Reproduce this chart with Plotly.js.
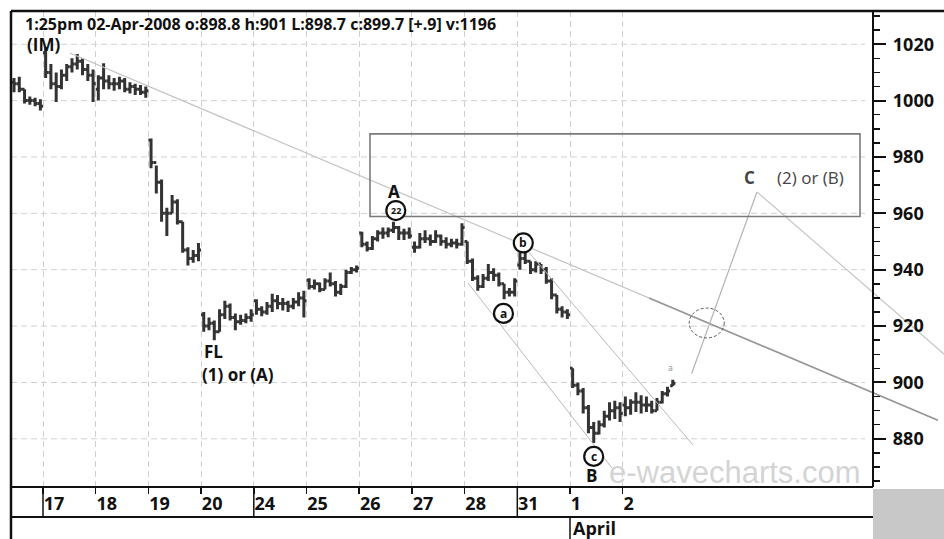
<!DOCTYPE html>
<html><head><meta charset="utf-8">
<script src="https://cdn.plot.ly/plotly-3.0.1.min.js"></script>
<style>html,body{margin:0;padding:0;background:#fff;}#chart{width:944px;height:539px;}</style>
</head><body><div id="chart"></div>
<script>
// ================= DATA =================
const chartTitle = '1:25pm 02-Apr-2008 o:898.8 h:901 L:898.7 c:899.7 [+.9] v:1196';
const dayLabels = ['17','18','19','20','24','25','26','27','28','31','1','2'];
const monthLabel = 'April';
const monthStartIndex = 10;
const weekStartIndex = [0, 4, 9];
const barsPerDay = 10;

// intraday bars (high / low / close), 10 bars per session; 14-Mar shows its tail only
const hi14 = [1008, 1008.5, 1004, 1001.5, 1001, 1000.5];
const lo14 = [1003, 1003, 999, 998.5, 998, 996.5];
const cl14 = [1006, 1004, 1000, 1000, 999, 998];

const hi17 = [1019, 1013, 1010, 1011, 1013, 1015, 1016.5, 1015, 1013, 1011];
const lo17 = [1008, 1004, 999.5, 1004, 1007, 1010, 1011, 1009, 1007, 999.5];
const cl17 = [1010, 1006, 1005, 1009, 1012, 1013, 1014, 1011, 1009, 1006];

const hi18 = [1009, 1013.3, 1009, 1008, 1008.5, 1008, 1006.5, 1006, 1005.5, 1005];
const lo18 = [1000, 1004, 1004, 1003.5, 1004, 1003, 1002.5, 1002, 1002, 1001];
const cl18 = [1008, 1007, 1006, 1006, 1007, 1004, 1005, 1004, 1003, 1003.5];

const hi19 = [986.6, 977, 972, 962, 966.5, 965, 957, 948, 947, 949.5];
const lo19 = [976, 967, 957, 952, 960, 956, 946, 941.5, 942.5, 943];
const cl19 = [978, 971, 960, 960, 964, 957, 947, 944, 945, 947];

const hi20 = [925, 923, 922, 926, 929, 928, 924.5, 924, 924.5, 926];
const lo20 = [918, 918.5, 915, 918, 922.5, 922, 918.5, 920.5, 921, 921.5];
const cl20 = [920, 921, 918, 924, 927, 923, 921.5, 922, 923, 924];

const hi24 = [929.5, 927, 928.5, 931.5, 931, 930, 929, 930, 932, 932.5];
const lo24 = [924, 923.5, 924, 925, 926, 925.5, 925, 926, 927, 923];
const cl24 = [926, 925, 927, 929, 928, 928, 927, 928.5, 930, 929];

const hi25 = [937, 936.5, 935.5, 937, 939, 936, 935, 940, 941, 941.5];
const lo25 = [933, 933, 932, 933, 934, 930.5, 931, 933.5, 938.5, 939];
const cl25 = [934, 935, 933, 936, 935, 932, 934, 939, 940, 940.5];

const hi26 = [953.5, 950, 952, 954, 955, 955, 957, 955.5, 954.5, 955];
const lo26 = [948, 946.5, 947, 950, 951, 951.5, 953, 950.5, 950.5, 951];
const cl26 = [949, 947.5, 951, 953, 953, 954, 955, 953, 953, 952];

const hi27 = [950, 953, 954, 952.5, 954, 952.5, 951.5, 951, 951, 956.5];
const lo27 = [946, 947.5, 949.5, 948.5, 949.5, 948.5, 947.5, 948, 947.5, 948.5];
const cl27 = [948, 951, 951, 950, 952, 950, 949, 949.5, 949, 955];

const hi28 = [950, 944, 938, 938.5, 942, 940.5, 939, 935, 933.5, 937];
const lo28 = [942, 936, 932.5, 933.5, 936, 936, 934, 929.5, 930.5, 930.5];
const cl28 = [943, 937, 934, 937, 939, 938, 935, 932, 932, 936];

const hi31 = [946, 946, 943, 943, 942, 941, 937, 931, 927, 926];
const lo31 = [940, 942, 938.5, 939, 938.5, 935, 929.5, 924.5, 923, 922.5];
const cl31 = [944, 943, 940, 942, 940, 936, 931, 926, 925, 924];

const hi01 = [905, 900, 898, 892, 886, 886.5, 890, 893, 893.5, 893];
const lo01 = [898, 895.5, 889, 882, 878.5, 881.5, 884, 886.5, 887, 886];
const cl01 = [899, 897, 891, 884, 882, 885, 888, 890, 891, 889];

const hi02 = [895, 894, 896.5, 895.5, 895, 893.5, 894.5, 897, 898.5, 901];
const lo02 = [888, 888.5, 889.5, 889, 889.5, 889, 890, 892.5, 895, 898.7];
const cl02 = [891, 893, 893, 892, 892, 890, 893, 896, 897, 899.7];

const sessionIndex = [-1, 0, 1, 2, 3, 4, 5, 6, 7, 8, 9, 10, 11];
const sessionFirstSlot = [4, 0, 0, 0, 0, 0, 0, 0, 0, 0, 0, 0, 0];
const sessionOpen = [1006.5, 1017, 1004, 986, 924, 929, 936.3, 953, 948, 950, 941.7, 905, 892];
const sessionHigh = [hi14, hi17, hi18, hi19, hi20, hi24, hi25, hi26, hi27, hi28, hi31, hi01, hi02];
const sessionLow  = [lo14, lo17, lo18, lo19, lo20, lo24, lo25, lo26, lo27, lo28, lo31, lo01, lo02];
const sessionClose= [cl14, cl17, cl18, cl19, cl20, cl24, cl25, cl26, cl27, cl28, cl31, cl01, cl02];
const lastBarOpen = 898.8;

// drawn analysis lines (session index, price)
const trendX = [0.51, 16.98],  trendY = [1016.9, 886.6];
const trendDarkX = [11.5, 16.98], trendDarkY = [930.0, 886.6];
const chanAX = [8.065, 10.797], chanAY = [935.3, 869.6];
const chanBX = [9.184, 12.334], chanBY = [947.0, 877.8];
const projUpX = [12.309, 13.548], projUpY = [903.2, 967.6];
const projDownX = [13.548, 17.097], projDownY = [967.6, 910.1];
const zoneX = [6.205, 15.503], zoneY = [958.9, 988.2];
const targetX = [12.262, 12.926], targetY = [915.8, 926.4];

// wave labels (session index, price)
const waveText = ['A', 'FL', '(1) or (A)', 'B', '(IM)'];
const waveX = [6.66, 3.236, 3.70, 10.41, 0.01];
const waveY = [967.9, 910.9, 902.8, 867.1, 1019.9];
const projText = ['C', '(2) or (B)'];
const projX = [13.40, 14.56];
const projY = [972.7, 972.7];
const circText = ['22', 'b', 'a', 'c'];
const circX = [6.695, 9.114, 8.738, 10.45];
const circY = [961.0, 949.5, 924.5, 873.75];
const watermark = 'e-wavecharts.com';
const watermarkX = 13.13, watermarkY = 868.2;
const gridPrices = [880, 900, 920, 940, 960, 980, 1000, 1020];

// ================= BUILD =================
const bx = [], bo = [], bh = [], bl = [], bc = [];
sessionIndex.forEach((d, s) => {
  const hs = sessionHigh[s], ls = sessionLow[s], cs = sessionClose[s];
  for (let k = 0; k < hs.length; k++) {
    const slot = sessionFirstSlot[s] + k;
    bx.push(d + (slot + 0.5) / barsPerDay);
    bh.push(hs[k]); bl.push(ls[k]); bc.push(cs[k]);
    bo.push(k === 0 ? sessionOpen[s] : cs[k - 1]);
  }
});
bo[bo.length - 1] = lastBarOpen;

const X0 = 11, W = 933, Y0 = 487, H = 476;
const xmin = (11 - 43) / 52.7, xmax = (944 - 43) / 52.7;
const ymin = 862.9, ymax = 1031.8;
const px = x => (x - X0) / W;
const py = y => (Y0 - y) / H;
const dx = i => (i - xmin) / (xmax - xmin);

const lineTrace = (x, y, color, width) => ({
  type: 'scatter', mode: 'lines', x: x, y: y, hoverinfo: 'skip', showlegend: false,
  line: { color: color, width: width }
});

const traces = [
  lineTrace(trendX, trendY, '#c2c2c2', 1.2),
  lineTrace(trendDarkX, trendDarkY, '#979797', 1.6),
  lineTrace(chanAX, chanAY, '#b8b8b8', 1),
  lineTrace(chanBX, chanBY, '#b8b8b8', 1),
  lineTrace(projUpX, projUpY, '#b3b3b3', 1.2),
  lineTrace(projDownX, projDownY, '#c2c2c2', 1.1),
  {
    type: 'ohlc', x: bx, open: bo, high: bh, low: bl, close: bc,
    increasing: { line: { color: '#333333', width: 3 } },
    decreasing: { line: { color: '#333333', width: 3 } },
    tickwidth: 0.5, hoverinfo: 'skip', showlegend: false
  }
];

const shapes = [];
gridPrices.forEach(v => shapes.push({
  type: 'line', xref: 'x', yref: 'y', x0: xmin, x1: (865 - 43) / 52.7, y0: v, y1: v,
  line: { color: '#d0d0d0', width: 1, dash: '6px,4px' }, layer: 'below'
}));
shapes.push({ type: 'rect', xref: 'x', yref: 'y', x0: zoneX[0], x1: zoneX[1], y0: zoneY[0], y1: zoneY[1],
  line: { color: '#7a7a7a', width: 1.6 }, fillcolor: 'rgba(0,0,0,0)' });
shapes.push({ type: 'circle', xref: 'x', yref: 'y', x0: targetX[0], x1: targetX[1], y0: targetY[0], y1: targetY[1],
  line: { color: '#555', width: 1, dash: '3px,2px' }, fillcolor: 'rgba(0,0,0,0)' });
circX.forEach((cx, k) => shapes.push({
  type: 'circle', xref: 'x', yref: 'y', xsizemode: 'pixel', ysizemode: 'pixel',
  xanchor: cx, yanchor: circY[k], x0: -9.5, x1: 9.5, y0: -9.5, y1: 9.5,
  line: { color: '#111', width: 2.2 }, fillcolor: '#ffffff'
}));
// frame
const frame = (x0, y0, x1, y1, w) => ({ type: 'line', xref: 'paper', yref: 'paper', x0: x0, y0: y0, x1: x1, y1: y1, line: { color: '#111', width: w } });
shapes.push(frame(0, py(11), 1, py(11), 2.5));
shapes.push(frame(0, py(11), 0, py(539), 2.5));
shapes.push(frame(0, py(487), px(873), py(487), 2.2));
shapes.push(frame(0, py(517), px(873), py(517), 2.2));
weekStartIndex.forEach(i => shapes.push(frame(dx(i), py(487), dx(i), py(517), 1.5)));
shapes.push(frame(dx(monthStartIndex), py(517), dx(monthStartIndex), py(539), 1.5));
shapes.push({ type: 'rect', xref: 'paper', yref: 'paper', x0: px(873), x1: 1, y0: py(489), y1: py(539),
  line: { width: 0 }, fillcolor: '#c8c8c8' });

const boldFont = (size, color) => ({ family: 'Open Sans, sans-serif', size: size, color: color || '#111', weight: 700 });
const annotations = [];
waveText.forEach((t, k) => annotations.push({
  xref: 'x', yref: 'y', x: waveX[k], y: waveY[k], text: t, showarrow: false, font: boldFont(17)
}));
annotations.push({ xref: 'x', yref: 'y', x: projX[0], y: projY[0], text: projText[0], showarrow: false, font: boldFont(17, '#444') });
annotations.push({ xref: 'x', yref: 'y', x: projX[1], y: projY[1], text: projText[1], showarrow: false,
  font: { family: 'Open Sans, sans-serif', size: 17, color: '#444' } });
circText.forEach((t, k) => annotations.push({
  xref: 'x', yref: 'y', x: circX[k], y: circY[k], text: t, showarrow: false,
  font: boldFont(t.length > 1 ? 9 : 12)
}));
annotations.push({ xref: 'x', yref: 'y', x: watermarkX, y: watermarkY, text: watermark, showarrow: false,
  font: { family: 'Liberation Sans, Arial, sans-serif', size: 31, color: '#d4d4d4' } });
annotations.push({ xref: 'x', yref: 'y', x: 11.9, y: 905, text: 'a', showarrow: false,
  font: { family: 'DejaVu Sans', size: 8, color: '#999' } });
annotations.push({ xref: 'x', yref: 'paper', x: monthStartIndex, xanchor: 'left', xshift: 1, y: py(528), yanchor: 'middle',
  text: monthLabel, showarrow: false, font: boldFont(18) });

const layout = {
  width: 944, height: 539, autosize: false,
  margin: { l: X0, r: 0, t: 11, b: 539 - Y0, pad: 0 },
  paper_bgcolor: '#ffffff', plot_bgcolor: '#ffffff',
  showlegend: false,
  title: { text: '<b>' + chartTitle + '</b>', font: { family: 'Open Sans, sans-serif', size: 16, color: '#111' },
    xref: 'container', yref: 'container', x: 25 / 944, xanchor: 'left', y: 1 - 24 / 539, yanchor: 'middle' },
  xaxis: {
    range: [xmin, xmax], domain: [0, 1], anchor: 'y', fixedrange: true,
    tickmode: 'array', tickvals: dayLabels.map((_, i) => i), ticktext: dayLabels,
    ticks: 'outside', ticklen: 6, tickwidth: 1.5, tickcolor: '#111',
    ticklabelposition: 'outside right',
    tickfont: boldFont(18),
    showgrid: true, gridcolor: '#d0d0d0', gridwidth: 1, griddash: '6px,4px',
    showline: false, zeroline: false, rangeslider: { visible: false }
  },
  yaxis: {
    range: [ymin, ymax], anchor: 'free', position: px(873), side: 'right', fixedrange: true,
    tick0: 0, dtick: 20, ticks: 'outside', ticklen: 12, tickwidth: 2, tickcolor: '#111',
    showline: true, linecolor: '#111', linewidth: 2.2,
    showgrid: false, zeroline: false, ticklabelstandoff: 3,
    tickfont: boldFont(18),
    minor: { tick0: 0, dtick: 5, ticks: 'outside', ticklen: 6, tickwidth: 1.5, tickcolor: '#111', showgrid: false }
  },
  shapes: shapes,
  annotations: annotations
};

Plotly.newPlot('chart', traces, layout, { staticPlot: true, displayModeBar: false });
</script></body></html>
